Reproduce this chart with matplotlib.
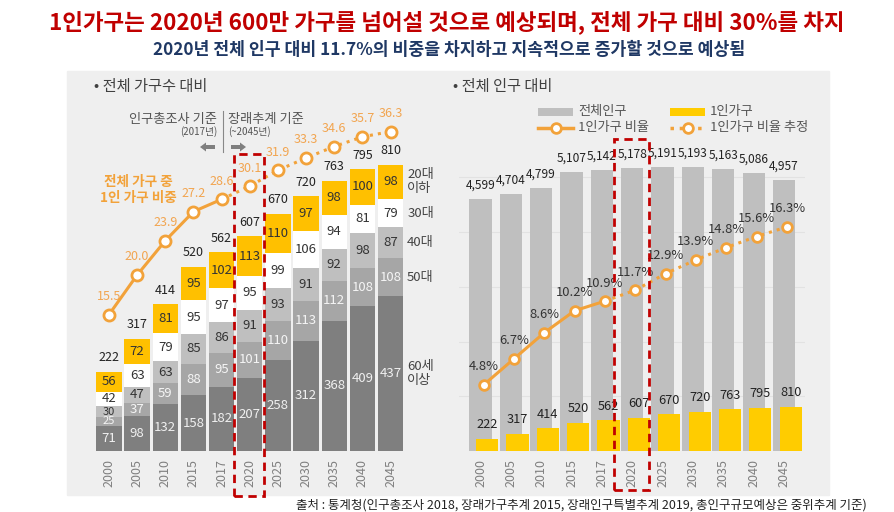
import matplotlib
matplotlib.use('Agg')
import matplotlib.pyplot as plt
from matplotlib.patches import Rectangle, FancyArrow
from matplotlib.lines import Line2D
import numpy as np

plt.rcParams['font.family'] = ['Noto Sans CJK KR', 'DejaVu Sans']

# ---------------- data ----------------
years = ['2000', '2005', '2010', '2015', '2017', '2020', '2025', '2030', '2035', '2040', '2045']
hh_60 = [71, 98, 132, 158, 182, 207, 258, 312, 368, 409, 437]
hh_50 = [25, 37, 59, 88, 95, 101, 110, 113, 112, 108, 108]
hh_40 = [30, 47, 63, 85, 86, 91, 93, 91, 92, 98, 87]
hh_30 = [42, 63, 79, 95, 97, 95, 99, 106, 94, 81, 79]
hh_20 = [56, 72, 81, 95, 102, 113, 110, 97, 98, 100, 98]
hh_total = [222, 317, 414, 520, 562, 607, 670, 720, 763, 795, 810]
hh_share = [15.5, 20.0, 23.9, 27.2, 28.6, 30.1, 31.9, 33.3, 34.6, 35.7, 36.3]
age_labels = ['60세\n이상', '50대', '40대', '30대', '20대\n이하']

pop_total = [4599, 4704, 4799, 5107, 5142, 5178, 5191, 5193, 5163, 5086, 4957]
pop_single = [222, 317, 414, 520, 562, 607, 670, 720, 763, 795, 810]
pop_share = [4.8, 6.7, 8.6, 10.2, 10.9, 11.7, 12.9, 13.9, 14.8, 15.6, 16.3]
n_actual = 5  # observed values up to 2017, projections afterwards

# ---------------- style ----------------
W, H = 894, 512
def fx(px): return px / W
def fy(py): return 1 - py / H

ORANGE = '#F2A23A'
ORANGE_TXT = '#F2A550'
YEL_L = '#FFC000'
YEL_R = '#FFCC00'
RED = '#C00000'
seg_colors = ['#7F7F7F', '#A6A6A6', '#BFBFBF', '#FFFFFF', YEL_L]
seg_txt = ['#F0F0F0', '#F5F5F5', '#333333', '#333333', '#333333']

fig = plt.figure(figsize=(W / 100, H / 100), dpi=100)
fig.patch.set_facecolor('white')

# panel background
fig.patches.append(Rectangle((fx(67), fy(495)), (829 - 67) / W, (495 - 71) / H,
                             transform=fig.transFigure, color='#EFEFEF', zorder=-5))

# titles
fig.text(0.5, fy(22), '1인가구는 2020년 600만 가구를 넘어설 것으로 예상되며, 전체 가구 대비 30%를 차지',
         ha='center', va='center', color=RED, fontsize=16.2, fontweight='bold')
fig.text(fx(449), fy(50), '2020년 전체 인구 대비 11.7%의 비중을 차지하고 지속적으로 증가할 것으로 예상됨',
         ha='center', va='center', color='#1F3864', fontsize=12.4, fontweight='bold')
fig.text(fx(94), fy(86), '• 전체 가구수 대비', ha='left', va='center', color='#404040', fontsize=11)
fig.text(fx(453), fy(86), '• 전체 인구 대비', ha='left', va='center', color='#404040', fontsize=11)
fig.text(fx(867), fy(505), '출처 : 통계청(인구총조사 2018, 장래가구추계 2015, 장래인구특별추계 2019, 총인구규모예상은 중위추계 기준)',
         ha='right', va='center', color='#222222', fontsize=9)

x = np.arange(len(years))

# ================= left chart =================
axL = fig.add_axes([fx(92.1), fy(451), (407.4 - 92.1) / W, 354 / H])
axL.set_facecolor('none')
axL.set_xlim(-0.6, 10.6)
axL.set_ylim(0, 1000)
segs = [hh_60, hh_50, hh_40, hh_30, hh_20]
bottom = np.zeros(len(years))
centers_last = []
for k, vals in enumerate(segs):
    vals = np.array(vals, dtype=float)
    axL.bar(x, vals, bottom=bottom, width=0.9, color=seg_colors[k], edgecolor='none', zorder=2)
    for i in range(len(years)):
        fs = 9.5 if vals[i] >= 35 else 8
        axL.text(x[i], bottom[i] + vals[i] / 2, str(int(vals[i])), ha='center', va='center',
                 color=seg_txt[k], fontsize=fs, zorder=3)
    centers_last.append(bottom[-1] + vals[-1] / 2)
    bottom += vals
for i in range(len(years)):
    axL.annotate(str(hh_total[i]), (x[i], bottom[i]), xytext=(0, 10), textcoords='offset points',
                 ha='center', va='center', fontsize=9, color='#222222')
for lab, cy in zip(age_labels, centers_last):
    axL.annotate(lab, (x[-1], cy), xytext=(12, 0), textcoords='offset points',
                 ha='left', va='center', fontsize=9.5, color='#444444', linespacing=1.1)
axL.set_xticks(x)
axL.set_xticklabels(years, rotation=90, color='#7F7F7F', fontsize=9)
axL.tick_params(axis='x', length=0, pad=6)
axL.set_yticks([])
for s in axL.spines.values():
    s.set_visible(False)

axL2 = axL.twinx()
axL2.set_ylim(0, 354 / 8.8)
axL2.plot(x[:n_actual], hh_share[:n_actual], color=ORANGE, lw=2.2, zorder=3)
axL2.plot(x[n_actual - 1:], hh_share[n_actual - 1:], color=ORANGE, lw=2.2, ls=':', zorder=3)
axL2.plot(x, hh_share, ls='none', marker='o', ms=8, mfc='white', mec=ORANGE, mew=2, zorder=4)
for i in range(len(years)):
    axL2.annotate(f'{hh_share[i]:.1f}', (x[i], hh_share[i]), xytext=(0, 13), textcoords='offset points',
                  ha='center', va='center', fontsize=9, color=ORANGE_TXT)
axL2.set_yticks([])
for s in axL2.spines.values():
    s.set_visible(False)

fig.text(fx(138), fy(190), '전체 가구 중\n1인 가구 비중', ha='center', va='center', color=ORANGE,
         fontsize=9.8, fontweight='bold', linespacing=1.15)

# annotation: census vs projection
fig.text(fx(217), fy(119), '인구총조사 기준', ha='right', va='center', color='#555555', fontsize=9.5)
fig.text(fx(217), fy(132), '(2017년)', ha='right', va='center', color='#555555', fontsize=7)
fig.text(fx(228), fy(119), '장래추계 기준', ha='left', va='center', color='#555555', fontsize=9.5)
fig.text(fx(228), fy(132), '(~2045년)', ha='left', va='center', color='#555555', fontsize=7)
fig.lines.append(Line2D([fx(223), fx(223)], [fy(111), fy(152)], transform=fig.transFigure,
                        color='#888888', lw=0.8))
fig.patches.append(FancyArrow(fx(215), fy(147), -(15) / W, 0, width=4 / H, head_width=9 / H,
                              head_length=6 / W, length_includes_head=True, transform=fig.transFigure,
                              color='#7F7F7F', lw=0))
fig.patches.append(FancyArrow(fx(231), fy(147), 15 / W, 0, width=4 / H, head_width=9 / H,
                              head_length=6 / W, length_includes_head=True, transform=fig.transFigure,
                              color='#7F7F7F', lw=0))

# ================= right chart =================
axR = fig.add_axes([fx(459.25), fy(451), (805.2 - 459.25) / W, 355.6 / H])
axR.set_facecolor('none')
axR.set_xlim(-0.7, 10.7)
axR.set_ylim(0, 6500)
axR.set_yticks([1000, 2000, 3000, 4000, 5000])
axR.yaxis.grid(True, color='#E2E2E2', lw=0.8)
axR.set_axisbelow(True)
axR.tick_params(axis='y', length=0, labelleft=False)
axR.bar(x, pop_total, width=0.73, color='#BFBFBF', edgecolor='none', zorder=2)
axR.bar(x + 0.22, pop_single, width=0.73, color=YEL_R, edgecolor='none', zorder=2.5)
for i in range(len(years)):
    axR.annotate(f'{pop_total[i]:,}', (x[i], pop_total[i]), xytext=(0, 10), textcoords='offset points',
                 ha='center', va='center', fontsize=8.6, color='#222222', zorder=5)
    axR.annotate(str(pop_single[i]), (x[i] + 0.22, pop_single[i]), xytext=(0, 10),
                 textcoords='offset points', ha='center', va='center', fontsize=9.2,
                 color='#222222', zorder=5)
axR.set_xticks(x)
axR.set_xticklabels(years, rotation=90, color='#7F7F7F', fontsize=9)
axR.tick_params(axis='x', length=0, pad=6)
for s in axR.spines.values():
    s.set_visible(False)

axR2 = axR.twinx()
axR2.set_ylim(0, 355.6 / 13.75)
xl = x + 0.1
axR2.plot(xl[:n_actual], pop_share[:n_actual], color=ORANGE, lw=2.2, zorder=3)
axR2.plot(xl[n_actual - 1:], pop_share[n_actual - 1:], color=ORANGE, lw=2.2, ls=':', zorder=3)
axR2.plot(xl, pop_share, ls='none', marker='o', ms=7, mfc='white', mec=ORANGE, mew=2, zorder=4)
for i in range(len(years)):
    axR2.annotate(f'{pop_share[i]:.1f}%', (xl[i], pop_share[i]), xytext=(0, 13),
                  textcoords='offset points', ha='center', va='center', fontsize=9.3, color='#333333')
axR2.set_yticks([])
for s in axR2.spines.values():
    s.set_visible(False)

# legend (drawn in figure coordinates)
fig.patches.append(Rectangle((fx(538), fy(116)), 35 / W, 8 / H, transform=fig.transFigure,
                             color='#BFBFBF', lw=0))
fig.text(fx(578), fy(111), '전체인구', ha='left', va='center', fontsize=9.5, color='#555555')
fig.patches.append(Rectangle((fx(670), fy(116)), 35 / W, 8 / H, transform=fig.transFigure,
                             color=YEL_R, lw=0))
fig.text(fx(710), fy(111), '1인가구', ha='left', va='center', fontsize=9.5, color='#555555')
fig.lines.append(Line2D([fx(538), fx(573)], [fy(128), fy(128)], transform=fig.transFigure,
                        color=ORANGE, lw=2.5))
fig.lines.append(Line2D([fx(555.5)], [fy(128)], transform=fig.transFigure, ls='none', marker='o',
                        ms=7, mfc='white', mec=ORANGE, mew=2))
fig.text(fx(578), fy(128), '1인가구 비율', ha='left', va='center', fontsize=9.5, color='#555555')
fig.lines.append(Line2D([fx(670), fx(705)], [fy(128), fy(128)], transform=fig.transFigure,
                        color=ORANGE, lw=2.5, ls=':'))
fig.lines.append(Line2D([fx(687.5)], [fy(128)], transform=fig.transFigure, ls='none', marker='o',
                        ms=7, mfc='white', mec=ORANGE, mew=2))
fig.text(fx(710), fy(128), '1인가구 비율 추정', ha='left', va='center', fontsize=9.5, color='#555555')

# red dashed highlight boxes around 2020
for (x0, x1, y0, y1) in [(234, 264, 154, 496), (614, 649, 139, 490)]:
    fig.patches.append(Rectangle((fx(x0), fy(y1)), (x1 - x0) / W, (y1 - y0) / H,
                                 transform=fig.transFigure, fill=False, ec=RED, lw=2,
                                 ls=(0, (3, 2)), zorder=10))

fig.savefig('out.png', dpi=100)
